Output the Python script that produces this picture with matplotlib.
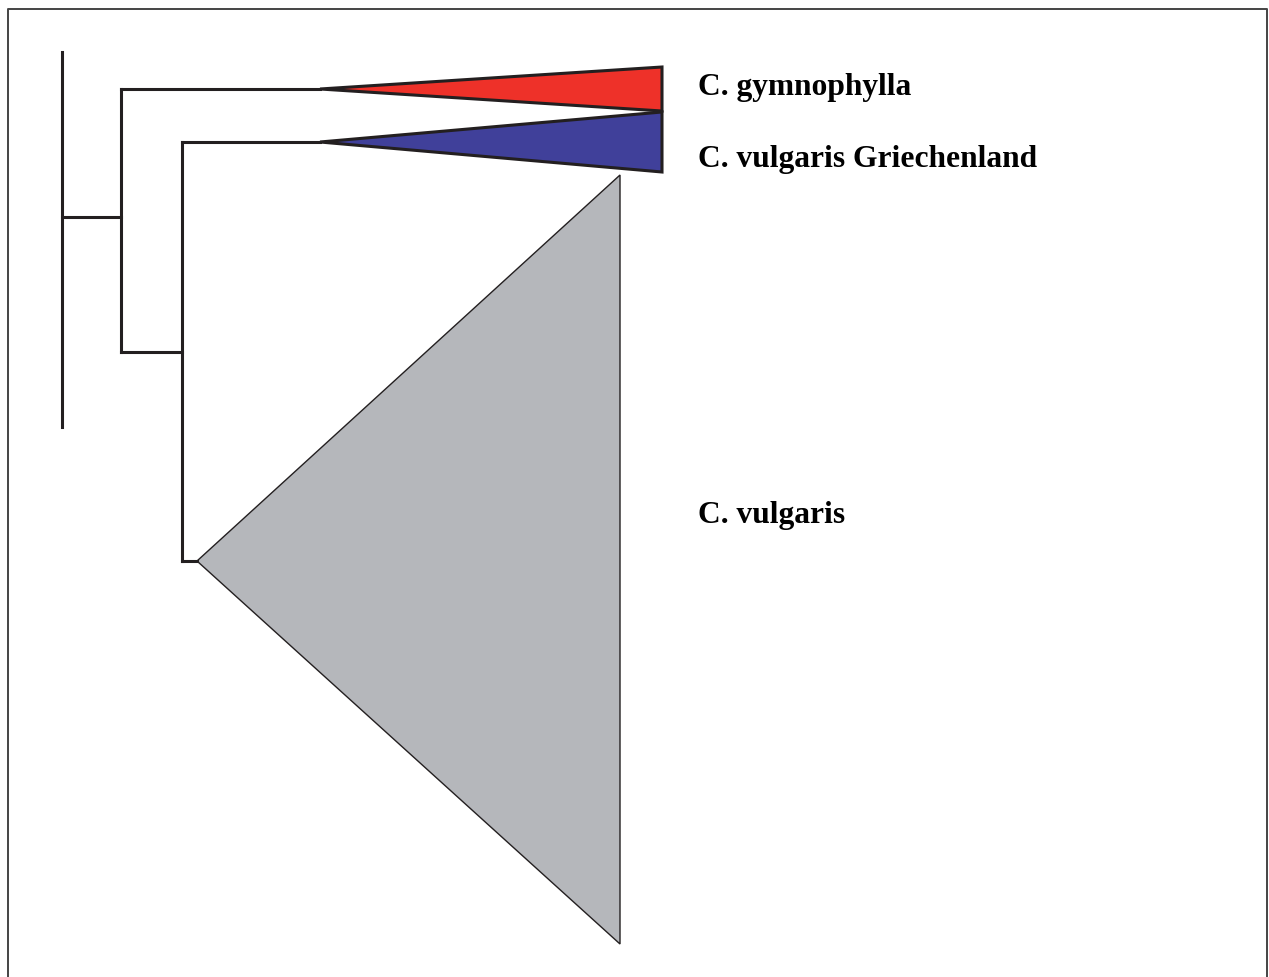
import matplotlib
matplotlib.use("Agg")
import matplotlib.pyplot as plt
from matplotlib.patches import Polygon

# tree layout (x = depth, y = vertical position), in picture units
root_x = 62
root_span = (53, 428)
root_y = 218
node1_x = 121
node1_span = (90, 353)
node2_x = 182
node2_span = (143, 562)

clade_names = ["C. gymnophylla", "C. vulgaris Griechenland", "C. vulgaris"]
clade_colors = ["#EE3129", "#40409A", "#B5B7BB"]
clade_stem_y = [90, 143, 562]
clade_stem_from = [node1_x, node2_x, node2_x]
clade_tip_x = [320, 320, 197]
clade_base_x = [662, 662, 620]
clade_top = [68, 113, 176]
clade_bottom = [112, 173, 945]
clade_edge_w = [2.2, 2.2, 1.0]
label_y = [88, 160, 516]
label_x = 698

fig = plt.figure(figsize=(12.69, 9.78), dpi=100, facecolor="white")
ax = fig.add_axes([0, 0, 1, 1])
ax.set_xlim(0, 1269)
ax.set_ylim(978, 0)
ax.axis("off")

# frame round the figure (no bottom edge)
ax.plot([8, 8, 1267, 1267], [990, 10, 10, 990], color="#444444", lw=1.4)

lc = "#231F20"
lw = 2.2
ax.plot([root_x, root_x], root_span, color=lc, lw=lw)
ax.plot([root_x, node1_x], [root_y, root_y], color=lc, lw=lw)
ax.plot([node1_x, node1_x], node1_span, color=lc, lw=lw, solid_capstyle="projecting")
ax.plot([node1_x, node2_x], [node1_span[1], node1_span[1]], color=lc, lw=lw)
ax.plot([node2_x, node2_x], node2_span, color=lc, lw=lw, solid_capstyle="projecting")

for i, name in enumerate(clade_names):
    y = clade_stem_y[i]
    ax.plot([clade_stem_from[i], clade_tip_x[i]], [y, y], color=lc, lw=lw)
    tri = Polygon([(clade_tip_x[i], y), (clade_base_x[i], clade_top[i]),
                   (clade_base_x[i], clade_bottom[i])], closed=True,
                  facecolor=clade_colors[i], edgecolor=lc, lw=clade_edge_w[i],
                  joinstyle="miter")
    ax.add_patch(tri)
    ax.text(label_x, label_y[i], name, family="Liberation Serif", weight="bold",
            fontsize=22.7, color="black", va="center", ha="left")

fig.savefig("out.png", dpi=100, facecolor="white")
